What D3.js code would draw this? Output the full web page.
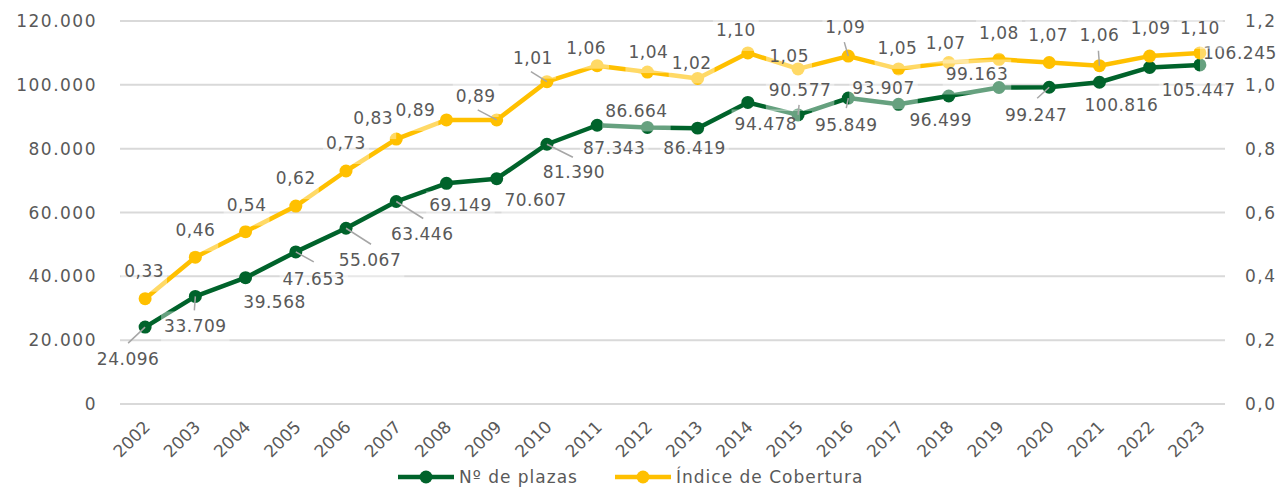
<!DOCTYPE html>
<html>
<head>
<meta charset="utf-8">
<script src="https://cdn.jsdelivr.net/npm/d3@7"></script>
<style>
body { margin: 0; background: #fff; }
text { font-family: "DejaVu Sans", sans-serif; fill: #595959; }
</style>
</head>
<body>
<div id="chart"></div>
<script>
var years = ["2002","2003","2004","2005","2006","2007","2008","2009","2010","2011","2012",
	"2013","2014","2015","2016","2017","2018","2019","2020","2021","2022","2023"];
var plazas = [24096, 33709, 39568, 47653, 55067, 63446, 69149, 70607, 81390, 87343, 86664,
	86419, 94478, 90577, 95849, 93907, 96499, 99163, 99247, 100816, 105447, 106245];
var cobertura = [0.33, 0.46, 0.54, 0.62, 0.73, 0.83, 0.89, 0.89, 1.01, 1.06, 1.04,
	1.02, 1.10, 1.05, 1.09, 1.05, 1.07, 1.08, 1.07, 1.06, 1.09, 1.10];
var leftTicks = [0, 20000, 40000, 60000, 80000, 100000, 120000];
var rightTicks = [0, 0.2, 0.4, 0.6, 0.8, 1.0, 1.2];
var seriesNames = ["Nº de plazas", "Índice de Cobertura"];

// label placement (pixels from the point), like excel's manual labels
var plazasLabelPos = [[-17,32],[0,29],[29,24],[18,27],[24,32],[26,32],[14,22],[39,21],[27,28],[17,23],[-11,-17],
	[-3,20],[18,21],[2,-25],[-2,27],[-15,-16],[-8,24],[-22,-14],[-13,28],[22,23],[49,22],[40,-12]];
var coberturaLabelPos = [[-1,-28],[0,-27],[1,-27],[0,-28],[0,-28],[-23,-21],[-31,-10],[-21,-24],[-14,-24],[-11,-18],[1,-20],
	[-6,-16],[-12,-23],[-9,-13],[-3,-29],[-1,-21],[-3,-20],[0,-26],[-1,-28],[0,-31],[1,-28],[0,-25]];
// leader lines: index -> end offset
var plazasLeaders = {0:[-17,16], 1:[-1,14], 3:[18,10], 4:[25,16], 5:[27,17], 8:[26,13], 13:[1,-10], 14:[-2,10], 18:[-12,11]};
var coberturaLeaders = {7:[-19,-10], 8:[-16,-10], 14:[-4,-14], 19:[-1,-15]};

var green = "#00632b";
var yellow = "#ffc000";

var chartW = 1284, chartH = 488;
var plotLeft = 120, plotRight = 1225, plotTop = 21, plotBottom = 404;

var svg = d3.select("#chart").append("svg")
	.attr("width", chartW)
	.attr("height", chartH);

var x = d3.scaleBand().domain(years).range([plotLeft, plotRight]);
var yL = d3.scaleLinear().domain([0, 120000]).range([plotBottom, plotTop]);
var yR = d3.scaleLinear().domain([0, 1.2]).range([plotBottom, plotTop]);

function cx(d, i) { return x(years[i]) + x.bandwidth() / 2; }

// gridlines
svg.append("g").selectAll("line")
	.data(leftTicks)
	.enter().append("line")
	.attr("x1", plotLeft).attr("x2", plotRight)
	.attr("y1", function(d){ return yL(d); })
	.attr("y2", function(d){ return yL(d); })
	.attr("stroke", "#d9d9d9")
	.attr("stroke-width", 2);

var fmtL = function(d){ return d3.format(",")(d).replace(/,/g, "."); };
var fmtR = function(d){ return d3.format(".1f")(d).replace(".", ","); };
var fmtLabel = function(d){ return d3.format(".2f")(d).replace(".", ","); };

svg.append("g").selectAll("text")
	.data(leftTicks)
	.enter().append("text")
	.attr("x", 97)
	.attr("y", function(d){ return yL(d); })
	.attr("dy", "0.36em")
	.attr("text-anchor", "end")
	.style("font-size", "17px")
	.style("letter-spacing", "1.5px")
	.text(fmtL);

svg.append("g").selectAll("text")
	.data(rightTicks)
	.enter().append("text")
	.attr("x", 1245)
	.attr("y", function(d){ return yR(d); })
	.attr("dy", "0.36em")
	.style("font-size", "17px")
	.style("letter-spacing", "1.5px")
	.text(fmtR);

// x axis labels
svg.append("g").selectAll("text")
	.data(years)
	.enter().append("text")
	.attr("transform", function(d){ return "translate(" + (x(d) + x.bandwidth()/2 + 6) + ",428) rotate(-45)"; })
	.attr("text-anchor", "end")
	.style("font-size", "17px")
	.text(function(d){ return d; });

// series
function drawSeries(values, yScale, colour) {
	var line = d3.line()
		.x(function(d, i){ return cx(d, i); })
		.y(function(d){ return yScale(d); });
	svg.append("path")
		.datum(values)
		.attr("d", line)
		.attr("fill", "none")
		.attr("stroke", colour)
		.attr("stroke-width", 4.5)
		.attr("stroke-linejoin", "round");
	svg.append("g").selectAll("circle")
		.data(values)
		.enter().append("circle")
		.attr("cx", cx)
		.attr("cy", function(d){ return yScale(d); })
		.attr("r", 6.5)
		.attr("fill", colour);
}
drawSeries(plazas, yL, green);
drawSeries(cobertura, yR, yellow);

// labels (semi transparent white box behind, as excel does here)
function drawLabels(values, yScale, pos, leaders, fmt) {
	var g = svg.append("g");
	values.forEach(function(v, i){
		var px = cx(v, i), py = yScale(v);
		var lx = px + pos[i][0], ly = py + pos[i][1];
		var t = g.append("text")
			.attr("x", lx)
			.attr("y", ly)
			.attr("dy", "0.36em")
			.attr("text-anchor", "middle")
			.style("font-size", "17px")
			.style("letter-spacing", "0.5px")
			.text(fmt(v));
		var bb = t.node().getBBox();
		g.insert("rect", "text")
			.attr("x", bb.x - 3)
			.attr("y", ly - 14)
			.attr("width", bb.width + 6)
			.attr("height", 35)
			.attr("fill", "#fff")
			.attr("opacity", 0.4);
		if (leaders[i]) {
			g.append("line")
				.attr("x1", px).attr("y1", py)
				.attr("x2", px + leaders[i][0]).attr("y2", py + leaders[i][1])
				.attr("stroke", "#a6a6a6")
				.attr("stroke-width", 1.5);
		}
	});
}
drawLabels(plazas, yL, plazasLabelPos, plazasLeaders, fmtL);
drawLabels(cobertura, yR, coberturaLabelPos, coberturaLeaders, fmtLabel);

// legend
var legend = svg.append("g").selectAll("g")
	.data(seriesNames)
	.enter().append("g")
	.attr("transform", function(d, i){ return "translate(" + (i == 0 ? 398 : 615) + ",477)"; });
legend.append("line")
	.attr("x1", 0).attr("x2", 56)
	.attr("stroke", function(d, i){ return i == 0 ? green : yellow; })
	.attr("stroke-width", 4.5);
legend.append("circle")
	.attr("cx", 28).attr("r", 6.5)
	.attr("fill", function(d, i){ return i == 0 ? green : yellow; });
legend.append("text")
	.attr("x", 61)
	.attr("dy", "0.36em")
	.style("font-size", "17px")
	.style("letter-spacing", "1px")
	.text(function(d){ return d; });
</script>
</body>
</html>
